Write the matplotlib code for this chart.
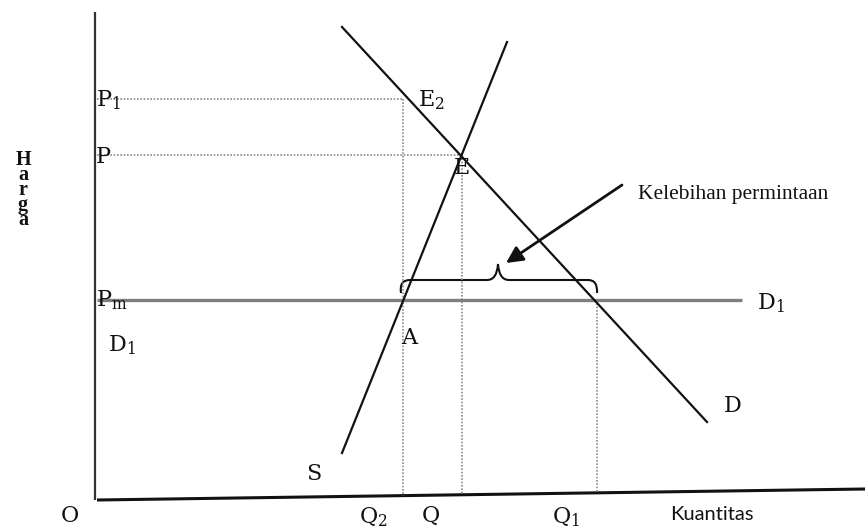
import matplotlib.pyplot as plt
from matplotlib.path import Path
from matplotlib.patches import PathPatch

# diagram units: x to the right, y (price) upward, roughly one unit per pixel
x_axis = [97, 865]
x_axis_y = [29, 40]
y_axis = [29, 517]

prices = {"P1": 430, "P": 374, "Pm": 229}
quantities = {"Q2": 403, "Q": 462, "Q1": 597}

supply_x = [342, 507]
supply_y = [76, 487]
demand_x = [342, 707]
demand_y = [502, 107]
pm_line_x = [97, 742]

colors = {"ink": "#111111", "axis": "#333333", "pm": "#7f7f7f", "dot": "#8a8a8a"}

plt.rcParams["mathtext.fontset"] = "dejavuserif"
serif = "DejaVu Serif"

fig = plt.figure(figsize=(8.65, 5.29), dpi=100)
ax = fig.add_axes([0, 0, 1, 1])
ax.set_xlim(0, 865)
ax.set_ylim(0, 529)
ax.axis("off")


def axis_y_at(x):
    # x axis is slightly tilted in the original
    return x_axis_y[0] + (x - x_axis[0]) * (x_axis_y[1] - x_axis_y[0]) / (x_axis[1] - x_axis[0])


# axes
ax.plot([95, 95], y_axis, color=colors["axis"], lw=1.6, solid_capstyle="butt")
ax.plot(x_axis, x_axis_y, color=colors["ink"], lw=2.2, solid_capstyle="butt")

# dotted guide lines
dot = dict(color=colors["dot"], lw=1.2, ls=(0, (1, 1)))
ax.plot([97, quantities["Q2"]], [prices["P1"]] * 2, **dot)
ax.plot([97, quantities["Q"]], [prices["P"]] * 2, **dot)
ax.plot([quantities["Q2"]] * 2, [prices["P1"], axis_y_at(quantities["Q2"])], **dot)
ax.plot([quantities["Q"]] * 2, [prices["P"], axis_y_at(quantities["Q"])], **dot)
ax.plot([quantities["Q1"]] * 2, [prices["Pm"], axis_y_at(quantities["Q1"])], **dot)

# price ceiling line
ax.plot(pm_line_x, [prices["Pm"]] * 2, color=colors["pm"], lw=2.4, solid_capstyle="butt")

# supply and demand
ax.plot(supply_x, supply_y, color=colors["ink"], lw=1.6)
ax.plot(demand_x, demand_y, color=colors["ink"], lw=1.6)

# brace over the shortage
by = 249
verts = [
    (401, 236), (399, by), (410, by),
    (487, by),
    (497, by), (498, 265),
    (499, by), (509, by),
    (588, by),
    (598, by), (597, 236),
]
codes = [Path.MOVETO, Path.CURVE3, Path.CURVE3, Path.LINETO,
         Path.CURVE3, Path.CURVE3, Path.CURVE3, Path.CURVE3,
         Path.LINETO, Path.CURVE3, Path.CURVE3]
ax.add_patch(PathPatch(Path(verts, codes), fill=False, color=colors["ink"], lw=1.5))

# arrow to the brace
ax.annotate("", xy=(506, 266), xytext=(622, 344),
            arrowprops=dict(arrowstyle="-|>,head_length=1.0,head_width=0.5",
                            color=colors["ink"], lw=2, shrinkA=0, shrinkB=0))
ax.text(638, 335, "Kelebihan permintaan", fontsize=15.5, family="Liberation Serif",
        ha="left", va="center", color=colors["ink"])

# labels
lab = dict(fontsize=16, family=serif, color=colors["ink"], va="center")
ax.text(96, 429, r"$\mathrm{P_1}$", ha="left", **lab)
ax.text(96, 372, "P", ha="left", **lab)
ax.text(96, 229, r"$\mathrm{P_m}$", ha="left", **lab)
ax.text(108, 184, r"$\mathrm{D_1}$", ha="left", **lab)
ax.text(757, 226, r"$\mathrm{D_1}$", ha="left", **lab)
ax.text(401, 191, "A", ha="left", **lab)
ax.text(418, 429, r"$\mathrm{E_2}$", ha="left", **lab)
ax.text(454, 361, "E", ha="left", **lab)
ax.text(724, 123, "D", ha="left", **lab)
ax.text(306, 55, "S", ha="left", **lab)
ax.text(61, 13, "O", ha="left", **lab)
ax.text(359, 12, r"$\mathrm{Q_2}$", ha="left", **lab)
ax.text(422, 13, "Q", ha="left", **lab)
ax.text(552, 12, r"$\mathrm{Q_1}$", ha="left", **lab)
ax.text(670, 14, "Kuantitas", fontsize=14.5, family=["Lato", "DejaVu Sans"],
        ha="left", va="center", color=colors["ink"])

# stacked vertical axis title
ax.text(23, 339, "H\na\nr\ng\na", fontsize=14.5, family="Liberation Serif", weight="bold",
        ha="center", va="center", ma="center", linespacing=0.68, color=colors["ink"])

plt.savefig("out.png", dpi=100)
